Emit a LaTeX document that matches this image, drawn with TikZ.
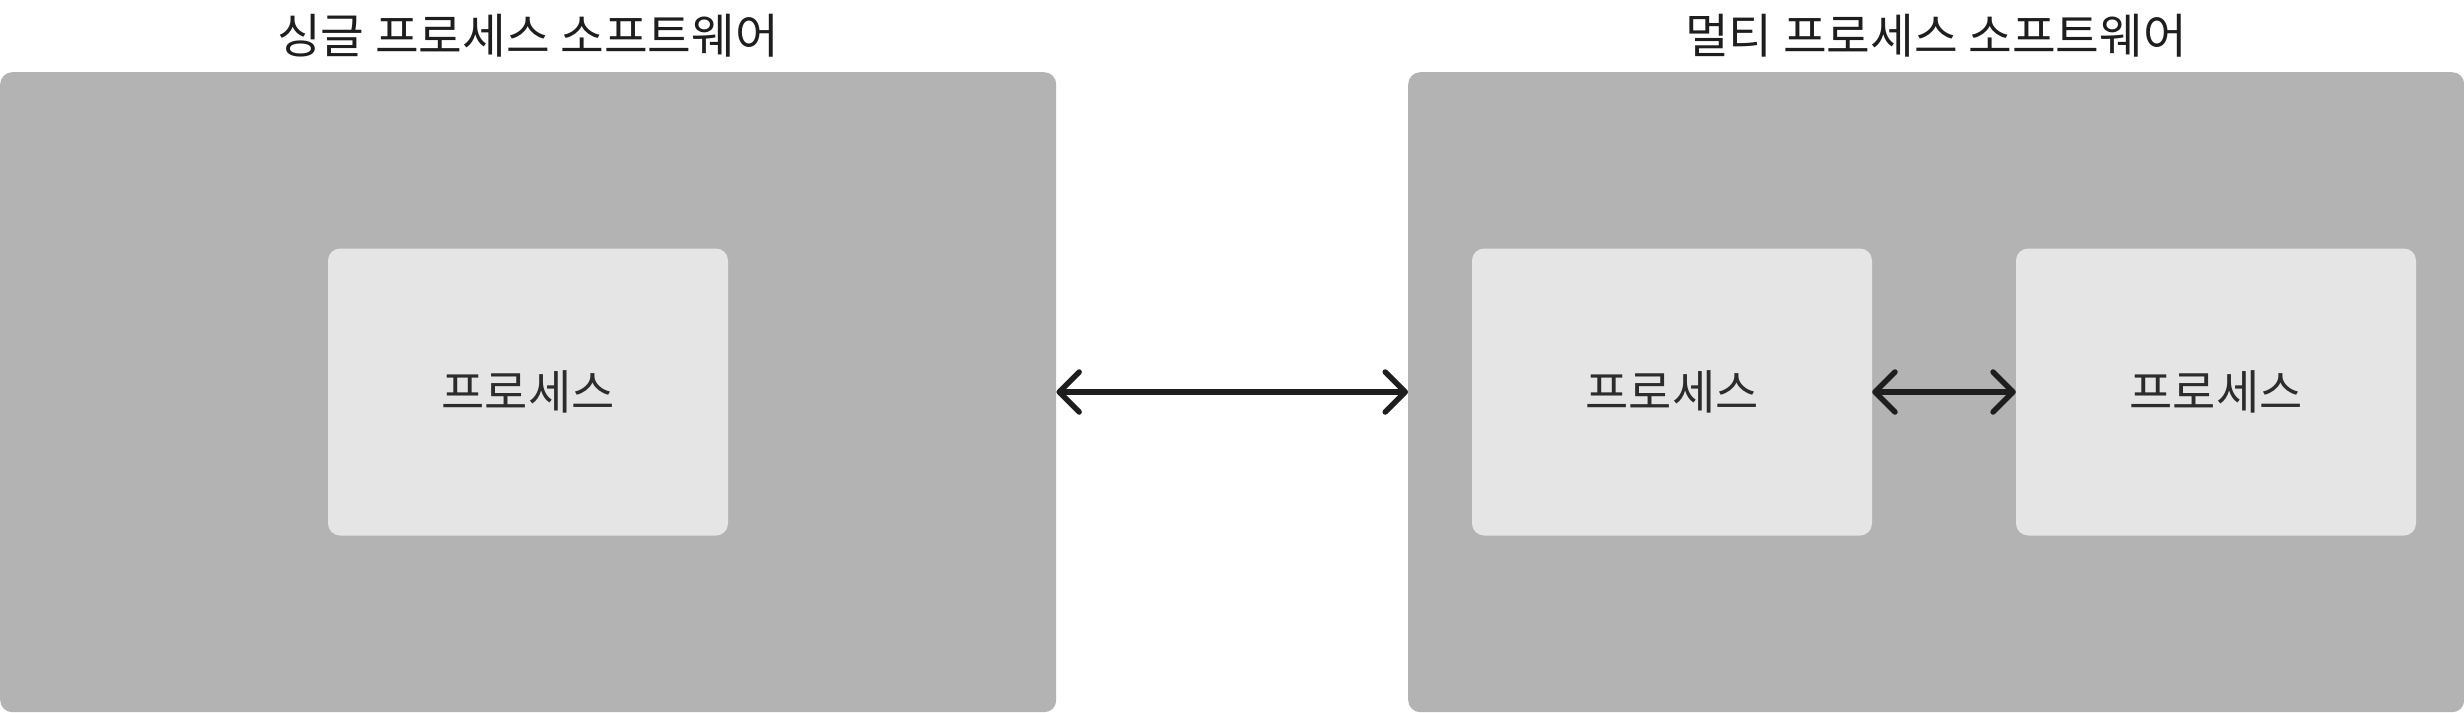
\documentclass[tikz,border=0pt]{standalone}
\usepackage{fontspec}
\setmainfont{Noto Sans CJK KR}
\usetikzlibrary{arrows.meta}
\definecolor{outerfill}{HTML}{B3B3B3}
\definecolor{innerfill}{HTML}{E5E5E5}
\definecolor{ink}{HTML}{1E1E1E}
\definecolor{txt}{HTML}{2C2C2C}
\begin{document}
\begin{tikzpicture}[x=1pt,y=-1pt,
  outerbox/.style={fill=outerfill, rounded corners=12pt, minimum width=1056pt, minimum height=640pt, inner sep=0pt, anchor=north west},
  innerbox/.style={fill=innerfill, rounded corners=12pt, minimum width=400pt, minimum height=287pt, inner sep=0pt, text=txt, font=\fontsize{47}{52}\selectfont},
  titletext/.style={text=ink, font=\fontsize{47.5}{52}\selectfont, inner sep=0pt},
  link/.style={draw=ink, line width=5.5pt, line cap=round, {Straight Barb[length=20pt,width=40pt,round]}-{Straight Barb[length=20pt,width=40pt,round]}}
]
\useasboundingbox (0,0) rectangle (2464,712);
\node[outerbox] (single) at (0,72) {};
\node[outerbox] (multi) at (1408,72) {};
\node[titletext] (t1) at (528,36) {싱글 프로세스 소프트웨어};
\node[titletext] (t2) at (1936,36) {멀티 프로세스 소프트웨어};
\node[innerbox] (p1) at (528,392) {프로세스};
\node[innerbox] (p2) at (1672,392) {프로세스};
\node[innerbox] (p3) at (2216,392) {프로세스};
\draw[link] (single.east |- p1.center) -- (multi.west |- p1.center);
\draw[link] (p2.east) -- (p3.west);
\end{tikzpicture}
\end{document}
